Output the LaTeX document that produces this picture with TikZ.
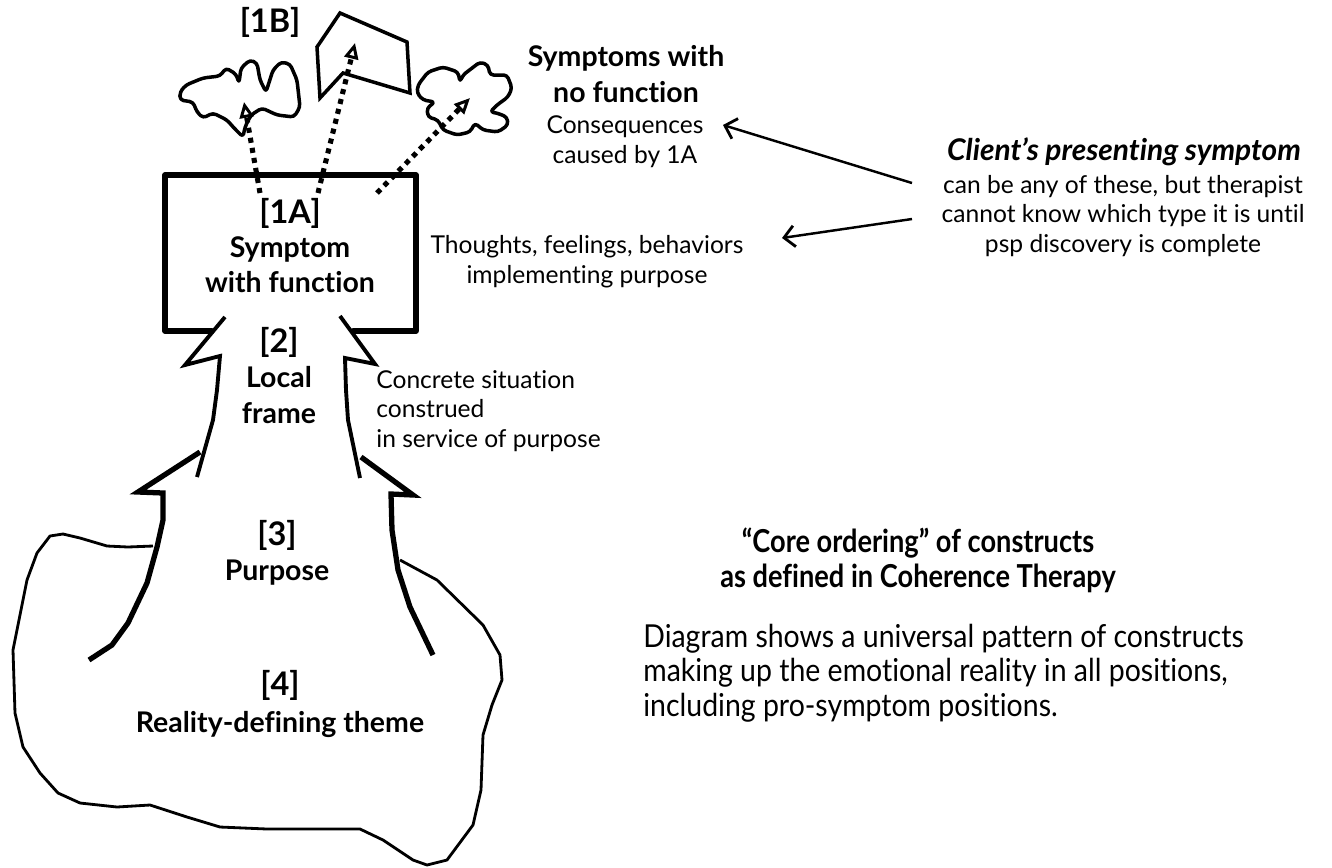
\documentclass[tikz,border=0pt]{standalone}
\usepackage{fontspec}
\setmainfont{Lato}[Ligatures=NoCommon]
\newfontfamily\titlefont[FakeStretch=0.86, Ligatures=NoCommon]{Lato}
\newfontfamily\descrfont[FakeStretch=0.9, Ligatures=NoCommon]{Lato}
\usetikzlibrary{arrows.meta}

\begin{document}
\begin{tikzpicture}[
  x=0.02cm, y=-0.02cm,
  tag/.style={font=\fontsize{18.5}{21}\selectfont\bfseries, inner sep=0pt},
  head/.style={font=\fontsize{16.2}{20}\selectfont\bfseries, align=center, inner sep=0pt},
  note/.style={font=\fontsize{14}{17}\selectfont, align=center, inner sep=0pt},
  boxln/.style={line width=2.9pt, line join=round, line cap=round},
  zig/.style={line width=2.2pt, line join=miter, line cap=butt},
  zigheavy/.style={line width=3pt, line join=miter, line cap=butt},
  blob/.style={line width=1.6pt, line join=round},
  cloud/.style={line width=2pt, line join=round},
  dotarr/.style={line width=2.9pt, dash pattern=on 2.9pt off 2.9pt, -{Triangle[open, length=9pt, width=8pt, line width=1.7pt]}},
  arr/.style={line width=1.4pt, -{Straight Barb[length=6pt, width=12pt, line width=1.6pt]}}
]
\useasboundingbox (0,0) rectangle (1332,867);

\draw[cloud, rounded corners=2pt] (180,92) -- (186,85) -- (203,78) -- (220,76) -- (226,68) -- (236,74) -- (239,83) -- (241,68) -- (250,60) -- (257,63) -- (260,80) -- (266,92) -- (273,70) -- (281,62) -- (290,64) -- (297,80) -- (300,107) -- (294,117) -- (277,115) -- (262,108) -- (251,115) -- (245,127) -- (243,137) -- (234,128) -- (227,120) -- (213,113) -- (203,118) -- (197,112) -- (193,102) -- (180,100) -- cycle;
\draw[cloud, line join=miter] (340,13) -- (407,42) -- (410,93) -- (343,73) -- (320,98) -- (317,47) -- cycle;
\draw[cloud, rounded corners=2pt] (418,85) -- (428,72) -- (443,67) -- (458,72) -- (460,82) -- (463,75) -- (480,62) -- (488,65) -- (490,75) -- (507,75) -- (512,88) -- (508,97) -- (497,105) -- (490,112) -- (497,113) -- (507,117) -- (508,125) -- (498,132) -- (483,130) -- (475,123) -- (470,132) -- (457,135) -- (443,130) -- (438,120) -- (428,117) -- (427,108) -- (435,102) -- (423,100) -- (417,93) -- cycle;

\draw[boxln] (212,331) -- (165,331) -- (165,175) -- (416,175) -- (416,331) -- (353,331);

\draw[zig] (225,317) -- (185,365) -- (220,356) -- (217,390) -- (213,420) -- (197,477);
\draw[zig] (340,316) -- (375,364) -- (345,358) -- (346,390) -- (348,420) -- (360,478);
\draw[zigheavy] (200,452) -- (138,492) -- (163,493) -- (163,520) -- (157,547) -- (147,583) -- (128,623) -- (112,645) -- (89,660);
\draw[zigheavy] (361,457) -- (413,495) -- (391,494) -- (392,530) -- (398,570) -- (410,607) -- (433,655);

\draw[blob] (153,546) -- (128,547) -- (107,546) -- (80,538) -- (63,534) -- (50,536) -- (37,553) -- (27,580) -- (13,650) -- (15,713) -- (23,747) -- (40,773) -- (58,793) -- (80,803) -- (117,807) -- (150,805) -- (187,817) -- (220,827) -- (267,829) -- (360,829) -- (383,840) -- (413,860) -- (427,865) -- (447,860) -- (473,825) -- (481,790) -- (483,735) -- (492,705) -- (502,680) -- (500,655) -- (483,625) -- (437,580) -- (400,560);

\coordinate (src1) at (260,193);
\coordinate (src2) at (318,193);
\coordinate (src3) at (377,193);
\coordinate (tgt1) at (244,102);
\coordinate (tgt2) at (355,43);
\coordinate (tgt3) at (470,98);
\draw[dotarr] (src1) -- (tgt1);
\draw[dotarr] (src2) -- (tgt2);
\draw[dotarr] (src3) -- (tgt3);

\node[tag] (t1b) at (270,22) {[1B]};
\node[tag] (t1a) at (290,213) {[1A]};
\node[head] (symfn) at (290,265) {Symptom\\with function};
\node[tag] (t2) at (279,342) {[2]};
\node[head] (local) at (279,395) {Local\\frame};
\node[tag] (t3) at (277,535) {[3]};
\node[head] (purpose) at (277,573) {Purpose};
\node[tag] (t4) at (280,685) {[4]};
\node[head] (theme) at (280,724) {Reality-defining theme};

\node[head] (nofn) at (626,74) {Symptoms with\\no function};
\node[note] (conseq) at (625,142) {Consequences\\caused by 1A};
\node[note] (thoughts) at (587,262) {Thoughts, feelings, behaviors\\implementing purpose};
\node[note, anchor=west, align=left] (concrete) at (376,411) {Concrete situation\\construed\\in service of purpose};

\node[head, font=\fontsize{17}{20}\selectfont\bfseries\itshape] (client) at (1124,152) {Client’s presenting symptom};
\node[note] (clientnote) at (1123,216) {can be any of these, but therapist\\cannot know which type it is until\\psp discovery is complete};
\coordinate (c1) at (912,183);
\coordinate (c2) at (912,219);
\coordinate (e1) at (723,125);
\coordinate (e2) at (782,238);
\draw[arr] (c1) -- (e1);
\draw[arr] (c2) -- (e2);

\node[font=\fontsize{18}{20}\selectfont\titlefont\bfseries, align=center, inner sep=0pt] (title) at (918,560) {“Core ordering” of constructs\\as defined in Coherence Therapy};
\node[font=\fontsize{18}{19.5}\selectfont\descrfont, align=left, anchor=north west, inner sep=0pt] (descr) at (643,624) {Diagram shows a universal pattern of constructs\\making up the emotional reality in all positions,\\including pro-symptom positions.};
\end{tikzpicture}
\end{document}
